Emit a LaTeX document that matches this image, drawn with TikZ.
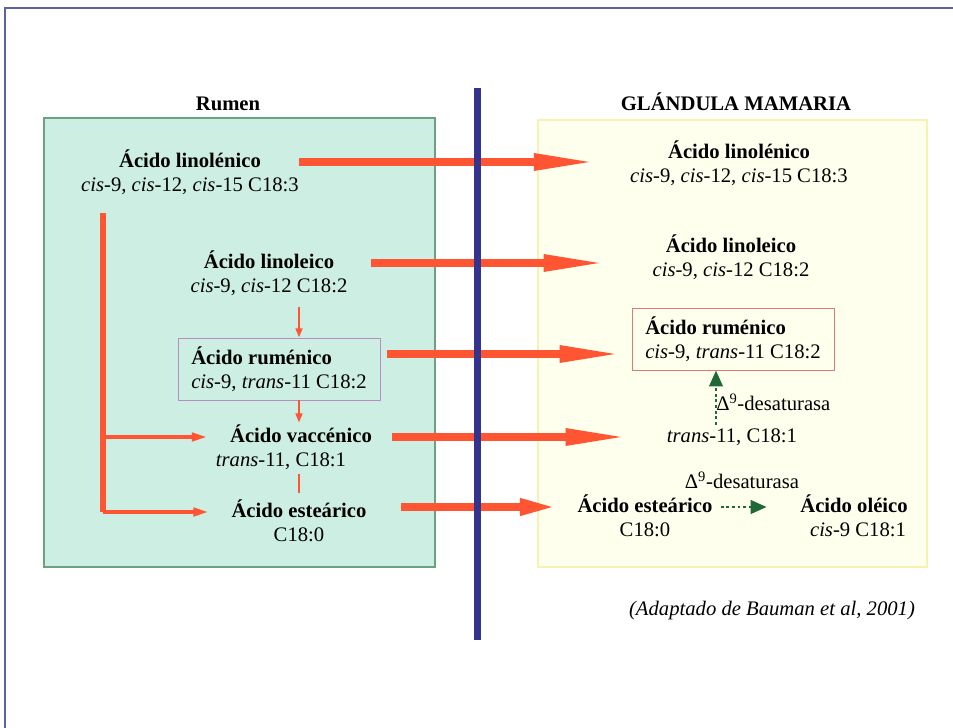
\documentclass[tikz,border=0pt]{standalone}
\usepackage{fontspec}
\setmainfont{Liberation Serif}
\usetikzlibrary{positioning,arrows.meta}

\definecolor{rumenfill}{RGB}{205,238,226}
\definecolor{rumendraw}{RGB}{110,160,130}
\definecolor{glandfill}{RGB}{255,255,238}
\definecolor{glanddraw}{RGB}{246,242,180}
\definecolor{flux}{RGB}{255,85,50}
\definecolor{divider}{RGB}{52,52,140}
\definecolor{desat}{RGB}{30,105,55}
\definecolor{boxL}{RGB}{185,140,195}
\definecolor{boxR}{RGB}{225,120,120}
\definecolor{framecol}{RGB}{90,100,160}

\begin{document}
\begin{tikzpicture}[x=0.75pt,y=-0.75pt]

	\tikzstyle{txt}=[inner sep=0pt,text height=10pt,text depth=2pt,
		font=\fontsize{15.5pt}{18pt}\selectfont]
	\tikzstyle{acid}=[txt,font=\fontsize{15.5pt}{18pt}\selectfont\bfseries]
	\tikzstyle{formula}=[txt,node distance=18pt]
	\tikzstyle{zone}=[line width=0.8pt,inner sep=0pt]
	\tikzstyle{highlight}=[align=left,inner sep=0pt,line width=0.6pt,
		minimum width=151.5pt,minimum height=46.5pt,
		font=\fontsize{15.5pt}{18pt}\selectfont]
	\tikzstyle{flow}=[draw=flux,line width=6pt,
		-{Triangle[length=48pt,width=11.5pt]}]
	\tikzstyle{trunkline}=[draw=flux,line width=5pt]
	\tikzstyle{branch}=[draw=flux,line width=3pt,
		-{Triangle[length=12pt,width=6pt]}]
	\tikzstyle{step down}=[draw=flux,line width=2.2pt,
		-{Triangle[length=7pt,width=5pt]}]
	\tikzstyle{enzyme}=[draw=desat,line width=2.2pt,
		dash pattern=on 2.2pt off 2pt,
		-{Triangle[length=12pt,width=10pt]}]

	\useasboundingbox (0,0) rectangle (953,728);
	\draw[framecol,line width=0.8pt] (5,728) -- (5,8) -- (953,8);

	% zones
	\node[zone,fill=rumenfill,draw=rumendraw,
		minimum width=293.25pt,minimum height=336.75pt] (rumenzone) at (239.5,342.5) {};
	\node[zone,fill=glandfill,draw=glanddraw,
		minimum width=291.75pt,minimum height=335.25pt] (glandzone) at (732.5,343.5) {};

	\node[acid] (rumen) at (228,105) {Rumen};
	\node[acid] (gland) at (736,105) {GLÁNDULA MAMARIA};

	% rumen
	\node[acid] (lnL) at (190,162) {Ácido linolénico};
	\node[formula,below of=lnL] (lnLs) {\textit{cis}-9, \textit{cis}-12, \textit{cis}-15 C18:3};
	\node[acid] (laL) at (269,263) {Ácido linoleico};
	\node[formula,below of=laL] (laLs) {\textit{cis}-9, \textit{cis}-12 C18:2};
	\node[highlight,draw=boxL] (ruL) at (279,369)
		{\textbf{Ácido ruménico}\\\textit{cis}-9, \textit{trans}-11 C18:2};
	\node[acid] (vaL) at (301,437) {Ácido vaccénico};
	\node[formula,below of=vaL,xshift=-15pt] (vaLs) {\textit{trans}-11, C18:1};
	\node[acid] (esL) at (299,512) {Ácido esteárico};
	\node[formula,below of=esL] (esLs) {C18:0};

	% glandula mamaria
	\node[acid] (lnR) at (739,153) {Ácido linolénico};
	\node[formula,below of=lnR] (lnRs) {\textit{cis}-9, \textit{cis}-12, \textit{cis}-15 C18:3};
	\node[acid] (laR) at (731,247) {Ácido linoleico};
	\node[formula,below of=laR] (laRs) {\textit{cis}-9, \textit{cis}-12 C18:2};
	\node[highlight,draw=boxR] (ruR) at (733,339)
		{\textbf{Ácido ruménico}\\\textit{cis}-9, \textit{trans}-11 C18:2};
	\node[formula] (trR) at (732,437) {\textit{trans}-11, C18:1};
	\node[formula,anchor=west] (d1) at (716,405) {Δ\textsuperscript{9}-desaturasa};
	\node[acid] (esR) at (645,507) {Ácido esteárico};
	\node[formula,below of=esR] (esRs) {C18:0};
	\node[acid] (olR) at (854,507) {Ácido oléico};
	\node[formula,below of=olR,xshift=3pt] (olRs) {\textit{cis}-9 C18:1};
	\node[formula] (d2) at (742,483) {Δ\textsuperscript{9}-desaturasa};
	\node[txt,font=\fontsize{15.5pt}{18pt}\selectfont\itshape] (ref) at (772,610)
		{(Adaptado de Bauman et al, 2001)};

	% biohidrogenacion
	\coordinate (trunk) at (103,213);
	\draw[trunkline] (trunk) -- (trunk |- esL);
	\draw[branch,shorten >=16.5pt] (trunk |- vaL) -- (vaL.west);
	\draw[branch,shorten >=16.5pt] (trunk |- esL) -- (esL.west);
	\draw[step down,shorten <=9pt] (laLs.south -| esL) -- (ruL.north -| esL);
	\draw[step down,shorten >=4.5pt] (ruL.south -| esL) -- (vaL.north -| esL);
	\draw[flux,line width=2.2pt,shorten <=3.75pt,shorten >=8pt] (vaLs.south -| esL) -- (esL.north);

	% transferencia
	\draw[flow,shorten <=28.5pt,shorten >=52.5pt] (lnL.east) -- (lnL.east -| lnR.west);
	\draw[flow,shorten <=27.75pt,shorten >=43.5pt] (laL.east) -- (laL.east -| laR.west);
	\coordinate (a3) at ([yshift=11.25pt]ruL.east);
	\draw[flow,shorten <=5.25pt,shorten >=6pt] (a3) -- (a3 -| ruR.west);
	\draw[flow,shorten <=15pt,shorten >=27.75pt] (vaL.east) -- (trR.west);
	\draw[flow,-{Triangle[length=28pt,width=11.5pt]},shorten <=25.5pt,shorten >=15pt]
		(esR.west -| esL.east) -- (esR.west);

	\draw[divider,line width=5.25pt] (477,88) -- (477,640);

	% desaturacion
	\draw[enzyme,shorten <=3pt] (trR.north -| d1.west) -- (ruR.south -| d1.west);
	\draw[enzyme,shorten <=6pt,shorten >=25pt] (esR.east) -- (olR.west);

\end{tikzpicture}
\end{document}
